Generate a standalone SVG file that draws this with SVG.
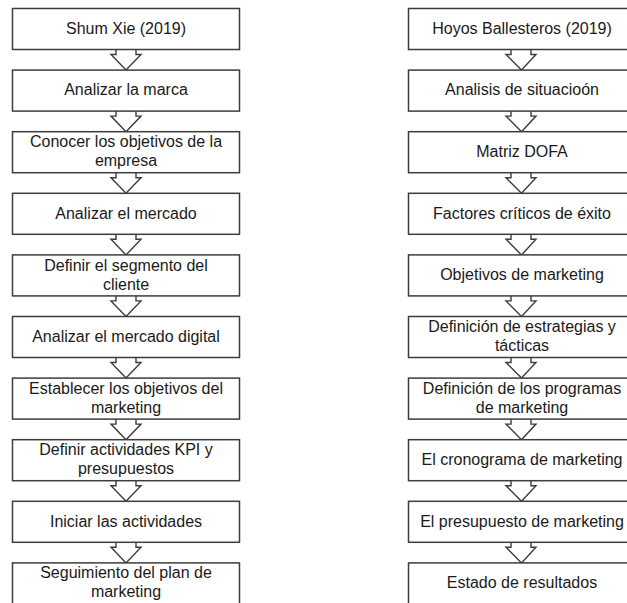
<svg xmlns="http://www.w3.org/2000/svg" width="627" height="603" viewBox="0 0 627 603">
<style>
.box{fill:#ffffff;stroke:#3c3c3c;stroke-width:1.5}
.arr{fill:#ffffff;stroke:#3c3c3c;stroke-width:1.4;stroke-linejoin:miter}
text{font-family:"Liberation Sans",Arial,sans-serif;font-size:16px;fill:#1a1a1a;text-anchor:middle}
</style>
<rect width="627" height="603" fill="#ffffff"/>
<g id="connectors">
<path class="arr" d="M116,49.5 V54.5 H111 L126,70.1 L141,54.5 H136 V49.5"/>
<path class="arr" d="M116,111.1 V116.1 H111 L126,131.7 L141,116.1 H136 V111.1"/>
<path class="arr" d="M116,172.7 V177.7 H111 L126,193.3 L141,177.7 H136 V172.7"/>
<path class="arr" d="M116,234.3 V239.3 H111 L126,254.9 L141,239.3 H136 V234.3"/>
<path class="arr" d="M116,295.9 V300.9 H111 L126,316.5 L141,300.9 H136 V295.9"/>
<path class="arr" d="M116,357.5 V362.5 H111 L126,378.1 L141,362.5 H136 V357.5"/>
<path class="arr" d="M116,419.1 V424.1 H111 L126,439.7 L141,424.1 H136 V419.1"/>
<path class="arr" d="M116,480.7 V485.7 H111 L126,501.3 L141,485.7 H136 V480.7"/>
<path class="arr" d="M116,542.3 V547.3 H111 L126,562.9 L141,547.3 H136 V542.3"/>
<path class="arr" d="M511,49.5 V54.5 H506 L521.5,70.1 L536,54.5 H531 V49.5"/>
<path class="arr" d="M511,111.1 V116.1 H506 L521.5,131.7 L536,116.1 H531 V111.1"/>
<path class="arr" d="M511,172.7 V177.7 H506 L521.5,193.3 L536,177.7 H531 V172.7"/>
<path class="arr" d="M511,234.3 V239.3 H506 L521.5,254.9 L536,239.3 H531 V234.3"/>
<path class="arr" d="M511,295.9 V300.9 H506 L521.5,316.5 L536,300.9 H531 V295.9"/>
<path class="arr" d="M511,357.5 V362.5 H506 L521.5,378.1 L536,362.5 H531 V357.5"/>
<path class="arr" d="M511,419.1 V424.1 H506 L521.5,439.7 L536,424.1 H531 V419.1"/>
<path class="arr" d="M511,480.7 V485.7 H506 L521.5,501.3 L536,485.7 H531 V480.7"/>
<path class="arr" d="M511,542.3 V547.3 H506 L521.5,562.9 L536,547.3 H531 V542.3"/>
</g>
<g id="L0"><rect class="box" x="12.5" y="8.5" width="227" height="41"/><text x="126" y="33.8">Shum Xie (2019)</text></g>
<g id="L1"><rect class="box" x="12.5" y="70.1" width="227" height="41"/><text x="126" y="95.4">Analizar la marca</text></g>
<g id="L2"><rect class="box" x="12.5" y="131.7" width="227" height="41"/><text x="126" y="147.2">Conocer los objetivos de la</text><text x="126" y="166.2">empresa</text></g>
<g id="L3"><rect class="box" x="12.5" y="193.3" width="227" height="41"/><text x="126" y="218.6">Analizar el mercado</text></g>
<g id="L4"><rect class="box" x="12.5" y="254.9" width="227" height="41"/><text x="126" y="270.9">Definir el segmento del</text><text x="126" y="289.9">cliente</text></g>
<g id="L5"><rect class="box" x="12.5" y="316.5" width="227" height="41"/><text x="126" y="341.8">Analizar el mercado digital</text></g>
<g id="L6"><rect class="box" x="12.5" y="378.1" width="227" height="41"/><text x="126" y="393.6">Establecer los objetivos del</text><text x="126" y="412.6">marketing</text></g>
<g id="L7"><rect class="box" x="12.5" y="439.7" width="227" height="41"/><text x="126" y="455.2">Definir actividades KPI y</text><text x="126" y="474.2">presupuestos</text></g>
<g id="L8"><rect class="box" x="12.5" y="501.3" width="227" height="41"/><text x="126" y="526.6">Iniciar las actividades</text></g>
<g id="L9"><rect class="box" x="12.5" y="562.9" width="227" height="41"/><text x="126" y="578.4">Seguimiento del plan de</text><text x="126" y="597.4">marketing</text></g>
<g id="R0"><rect class="box" x="408.5" y="8.5" width="228" height="41"/><text x="522" y="33.8">Hoyos Ballesteros (2019)</text></g>
<g id="R1"><rect class="box" x="408.5" y="70.1" width="228" height="41"/><text x="522" y="95.4">Analisis de situacioón</text></g>
<g id="R2"><rect class="box" x="408.5" y="131.7" width="228" height="41"/><text x="522" y="157">Matriz DOFA</text></g>
<g id="R3"><rect class="box" x="408.5" y="193.3" width="228" height="41"/><text x="522" y="218.6">Factores críticos de éxito</text></g>
<g id="R4"><rect class="box" x="408.5" y="254.9" width="228" height="41"/><text x="522" y="280.2">Objetivos de marketing</text></g>
<g id="R5"><rect class="box" x="408.5" y="316.5" width="228" height="41"/><text x="522" y="332">Definición de estrategias y</text><text x="522" y="351">tácticas</text></g>
<g id="R6"><rect class="box" x="408.5" y="378.1" width="228" height="41"/><text x="522" y="393.6">Definición de los programas</text><text x="522" y="412.6">de marketing</text></g>
<g id="R7"><rect class="box" x="408.5" y="439.7" width="228" height="41"/><text x="522" y="465">El cronograma de marketing</text></g>
<g id="R8"><rect class="box" x="408.5" y="501.3" width="228" height="41"/><text x="522" y="526.6">El presupuesto de marketing</text></g>
<g id="R9"><rect class="box" x="408.5" y="562.9" width="228" height="41"/><text x="522" y="588.2">Estado de resultados</text></g>
</svg>
